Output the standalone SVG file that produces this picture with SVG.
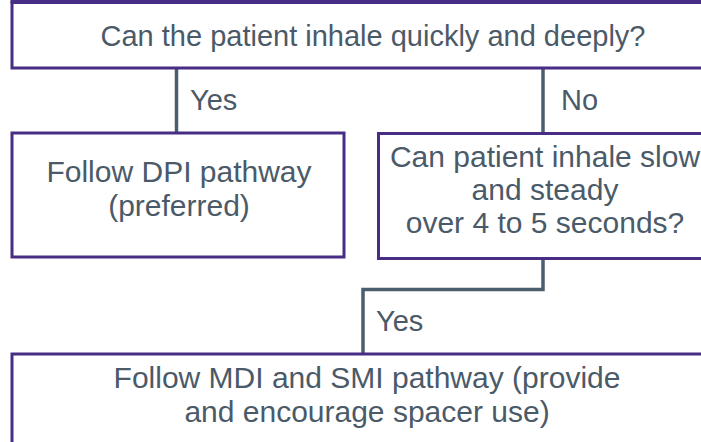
<svg xmlns="http://www.w3.org/2000/svg" width="701" height="442" viewBox="0 0 701 442">
  <style>
    .box { fill: #ffffff; stroke: #472d85; stroke-width: 3; }
    .label { font-family: "Liberation Sans", Arial, sans-serif; font-size: 30px; fill: #4b5a68; }
    .small { font-size: 29px; }
    .mid { text-anchor: middle; }
    .wire { fill: none; stroke: #4a5e6e; stroke-width: 3.5; }
  </style>
  <rect x="0" y="0" width="701" height="442" fill="#ffffff"/>

  <!-- connectors -->
  <g id="connectors">
    <line class="wire" x1="176.5" y1="68" x2="176.5" y2="133"/>
    <line class="wire" x1="543" y1="68" x2="543" y2="133"/>
    <polyline class="wire" points="543,258 543,289.5 363,289.5 363,354"/>
    <text class="label small" x="190" y="110">Yes</text>
    <text class="label small" x="561" y="110">No</text>
    <text class="label small" x="376" y="331">Yes</text>
  </g>

  <g id="q-inhale-quickly">
    <rect x="10.5" y="0" width="700" height="3.5" fill="#472d85"/>
    <rect class="box" x="12" y="2.5" width="710" height="65.5"/>
    <text class="label small mid" x="373" y="46">Can the patient inhale quickly and deeply?</text>
  </g>

  <g id="dpi-pathway">
    <rect class="box" x="12" y="133" width="332" height="124"/>
    <text class="label mid" x="179" y="182">Follow DPI pathway</text>
    <text class="label mid" x="179" y="216">(preferred)</text>
  </g>

  <g id="q-inhale-slow">
    <rect class="box" x="378.5" y="133.5" width="340" height="125"/>
    <text class="label mid" x="545" y="166.5">Can patient inhale slow</text>
    <text class="label mid" x="545" y="199.5">and steady</text>
    <text class="label mid" x="545" y="233">over 4 to 5 seconds?</text>
  </g>

  <g id="mdi-smi-pathway">
    <rect class="box" x="12" y="354" width="720" height="120"/>
    <text class="label mid" x="367" y="388">Follow MDI and SMI pathway (provide</text>
    <text class="label mid" x="367" y="422">and encourage spacer use)</text>
  </g>
</svg>
